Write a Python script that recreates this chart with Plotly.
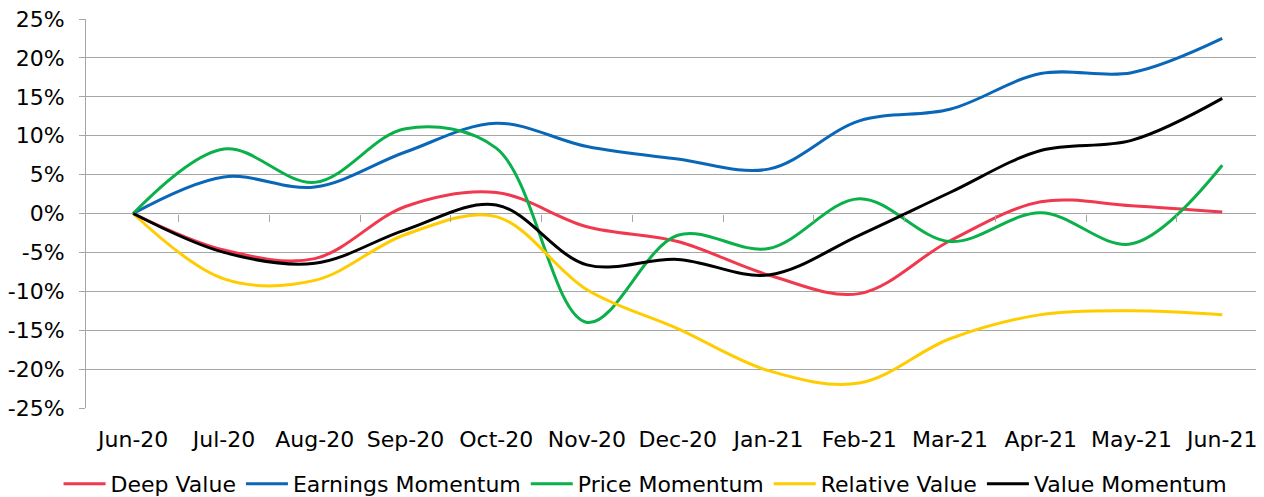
import plotly.graph_objects as go

months = ["Jun-20", "Jul-20", "Aug-20", "Sep-20", "Oct-20", "Nov-20", "Dec-20",
          "Jan-21", "Feb-21", "Mar-21", "Apr-21", "May-21", "Jun-21"]

deep_value = [0.0, -4.7, -5.8, 0.9, 2.7, -1.7, -3.6, -7.9, -10.3, -3.5, 1.5, 1.0, 0.2]
earnings_momentum = [0.0, 4.7, 3.4, 7.9, 11.6, 8.6, 7.0, 5.7, 11.9, 13.4, 18.0, 18.1, 22.5]
price_momentum = [0.0, 8.3, 4.0, 10.9, 8.4, -14.0, -2.8, -4.5, 1.9, -3.6, 0.1, -3.9, 6.2]
relative_value = [0.0, -8.4, -8.6, -2.7, -0.4, -9.8, -14.8, -20.2, -21.8, -16.1, -13.0, -12.5, -13.0]
value_momentum = [0.0, -5.0, -6.4, -2.1, 1.1, -6.6, -5.9, -7.9, -2.8, 2.7, 8.1, 9.4, 14.8]

series = [
    ("Deep Value", deep_value, "#F0384F"),
    ("Earnings Momentum", earnings_momentum, "#0A67B8"),
    ("Price Momentum", price_momentum, "#0BB04A"),
    ("Relative Value", relative_value, "#FFCC00"),
    ("Value Momentum", value_momentum, "#000000"),
]

y_ticks = [-25, -20, -15, -10, -5, 0, 5, 10, 15, 20, 25]
y_tick_text = [f"{v}%" for v in y_ticks]

FONT = "DejaVu Sans, Verdana, sans-serif"
FS = 22

fig = go.Figure()
idx = list(range(len(months)))
for name, vals, col in series:
    fig.add_trace(go.Scatter(
        x=idx, y=vals, name=name, mode="lines",
        line=dict(color=col, width=3, shape="spline", smoothing=1.0),
        hoverinfo="skip",
    ))

# invisible trace to host the tick-mark axis at 0%
fig.add_trace(go.Scatter(x=[0], y=[0], xaxis="x2", mode="markers",
                         marker=dict(opacity=0), showlegend=False, hoverinfo="skip"))

fig.update_layout(
    width=1256, height=489,
    margin=dict(l=78, r=0, t=11, b=89, autoexpand=False),
    paper_bgcolor="white", plot_bgcolor="white",
    font=dict(family=FONT, size=FS, color="#000000"),
    showlegend=True,
    legend=dict(orientation="h", x=0.475, xanchor="center", y=-0.195, yanchor="middle",
                font=dict(size=FS, family=FONT), itemwidth=42, tracegroupgap=0,
                bgcolor="rgba(0,0,0,0)"),
    xaxis=dict(
        range=[-0.52, 12.46], tickmode="array", tickvals=idx, ticktext=months,
        showgrid=False, zeroline=False, showline=False, ticks="", automargin=False,
        tickfont=dict(size=FS, family=FONT), ticklabelstandoff=16,
        ticklabeloverflow="allow",
    ),
    xaxis2=dict(
        overlaying="x", anchor="free", position=0.5, side="bottom",
        range=[-0.52, 12.46], tickmode="array", automargin=False,
        tickvals=[i + 0.5 for i in range(len(months) - 1)],
        ticks="outside", ticklen=7, tickcolor="#A6A6A6", tickwidth=1,
        showticklabels=False, showgrid=False, zeroline=False, showline=False,
    ),
    yaxis=dict(
        range=[-25, 25], tickmode="array", tickvals=y_ticks, ticktext=y_tick_text,
        showgrid=True, gridcolor="#A6A6A6", gridwidth=1, automargin=False,
        zeroline=True, zerolinecolor="#A6A6A6", zerolinewidth=1,
        showline=True, linecolor="#A6A6A6", linewidth=1,
        ticks="outside", ticklen=6, tickcolor="#A6A6A6", ticklabelstandoff=10,
        ticklabeloverflow="allow",
        tickfont=dict(size=FS, family=FONT),
    ),
)

fig.write_html("out.html")
